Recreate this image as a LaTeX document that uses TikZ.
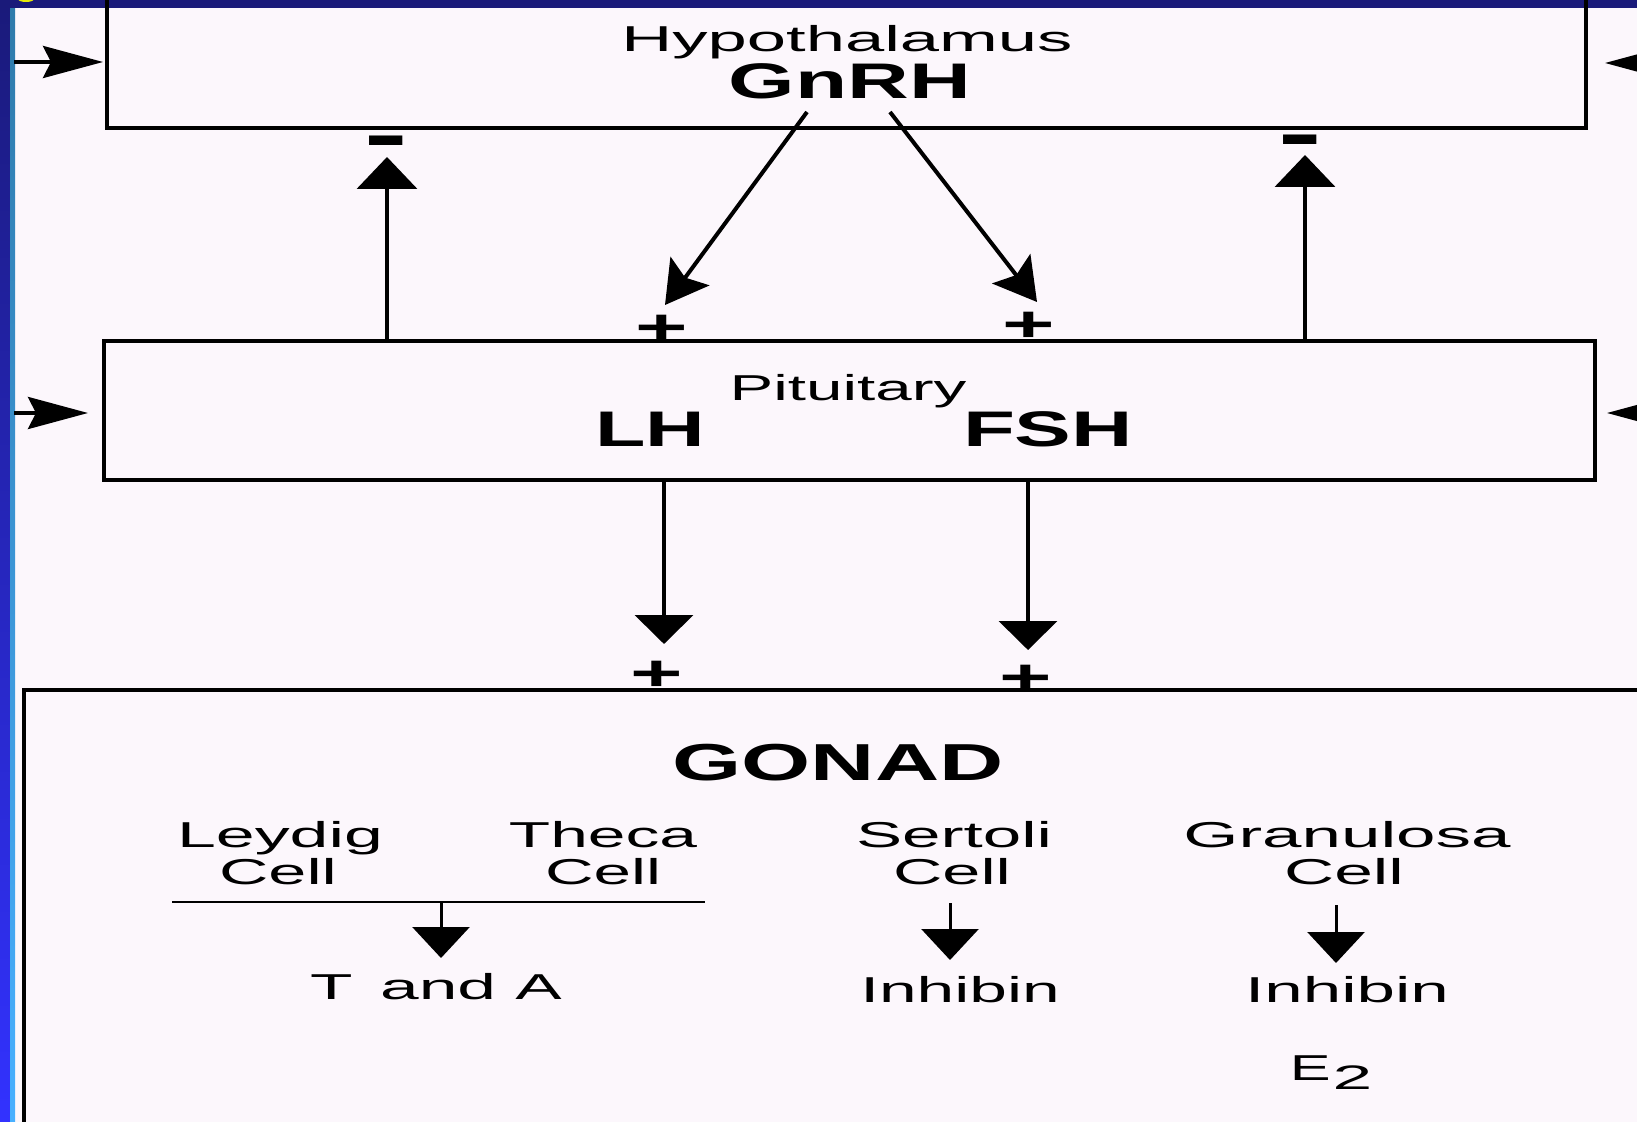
\documentclass[tikz,border=0pt]{standalone}
\usepackage{fontspec}
\setmainfont{Liberation Sans}
\usetikzlibrary{arrows.meta}
\definecolor{bg}{RGB}{252,247,252}
\definecolor{navy}{RGB}{26,26,122}
\definecolor{bblue}{RGB}{50,50,255}
\definecolor{stripetop}{RGB}{46,122,170}
\definecolor{stripebot}{RGB}{72,176,255}
\newcommand{\sx}[2]{\scalebox{#1}[1]{#2}}
\begin{document}
\begin{tikzpicture}[x=0.5pt,y=-0.5pt,
  box/.style={draw=black,line width=2pt,inner sep=0pt,outer sep=0pt},
  rl/.style={inner sep=0pt,anchor=base,font=\fontsize{18pt}{20pt}\selectfont},
  bl/.style={inner sep=0pt,anchor=base,font=\fontsize{25pt}{27pt}\selectfont\bfseries},
  sg/.style={inner sep=0pt,font=\fontsize{25pt}{27pt}\selectfont\bfseries},
  mg/.style={inner sep=0pt,font=\fontsize{48pt}{50pt}\selectfont\bfseries},
  uparr/.style={line width=2pt,-{Triangle[length=16pt,width=30pt]}},
  dnarr/.style={line width=2pt,-{Triangle[length=14.5pt,width=29pt]}},
  diarr/.style={line width=2pt,-{Stealth[length=21pt,width=24pt,inset=4pt]}},
  sarr/.style={line width=2pt,-{Stealth[length=30pt,width=16pt,inset=4pt]}},
  garr/.style={line width=1.5pt,-{Triangle[length=15.5pt,width=28.5pt]}},
]
\useasboundingbox (0,0) rectangle (1637,1122);
\begin{scope}
\clip (0,0) rectangle (1637,1122);
\fill[bg] (0,0) rectangle (1637,1122);
% bands
\shade[top color=navy,bottom color=bblue] (0,0) rectangle (10,1122);
\shade[top color=stripetop,bottom color=stripebot] (10,0) rectangle (15,1122);
\fill[navy] (0,0) rectangle (1637,8);
\fill[yellow!90!green] (26,-1) ellipse (8 and 3);

% boxes
\node[box,minimum width=739.5pt,minimum height=79pt] (hypo) at (846.5,49) {};
\node[box,minimum width=745.5pt,minimum height=69.5pt] (pit) at (849.5,410.5) {};
\node[box,minimum width=838pt,minimum height=255pt] (gonad) at (862,945) {};

% texts
\node[rl] (hypT) at (847,52) {\sx{1.96}{Hypothalamus}};
\node[bl] (gnrh) at (850,99) {\sx{1.71}{GnRH}};
\node[rl] (pitT) at (848,401) {\sx{1.82}{Pituitary}};
\node[bl] (lh) at (650,447) {\sx{1.65}{LH}};
\node[bl] (fsh) at (1048,447) {\sx{1.7}{FSH}};
\node[inner sep=0pt,anchor=base,font=\fontsize{26pt}{28pt}\selectfont\bfseries] (gon) at (838,780) {\sx{1.71}{GONAD}};
\node[rl] (ley) at (280,847) {\sx{1.94}{Leydig}};
\node[rl] (leyc) at (278,884) {\sx{1.9}{Cell}};
\node[rl] (the) at (603,847) {\sx{1.88}{Theca}};
\node[rl] (thec) at (603,884) {\sx{1.87}{Cell}};
\node[rl] (ser) at (954,847) {\sx{1.92}{Sertoli}};
\node[rl] (serc) at (952,884) {\sx{1.9}{Cell}};
\node[rl] (gra) at (1347,847) {\sx{1.97}{Granulosa}};
\node[rl] (grac) at (1344,884) {\sx{1.93}{Cell}};
\node[rl] (ta) at (436,999) {\sx{1.93}{T\hskip0.12em\ and A}};
\node[rl] (inh1) at (960,1002) {\sx{1.88}{Inhibin}};
\node[rl] (inh2) at (1347,1002) {\sx{1.92}{Inhibin}};
\node[rl] (e2) at (1331,1080) {\sx{1.7}{E}\hskip1pt\raisebox{-4.5pt}{\fontsize{17pt}{18pt}\selectfont\sx{2.1}{2}}};

% signs
\node[mg] (mL) at (386,151) {\sx{0.7}{–}};
\node[mg] (mR) at (1300,150) {\sx{0.7}{–}};
\node[sg] (pL) at (662,330) {\sx{1.8}{+}};
\node[sg] (pR) at (1029,327) {\sx{1.8}{+}};
\node[sg] (pL2) at (657,676) {\sx{1.8}{+}};
\node[sg] (pR2) at (1026,680) {\sx{1.8}{+}};

% coordinates
\coordinate (upLt) at (387,157);
\coordinate (upRt) at (1305,155);
\coordinate (dgLs) at (807,112);
\coordinate (dgLt) at (665,305);
\coordinate (dgRs) at (890,112);
\coordinate (dgRt) at (1037,302);
\coordinate (dnLt) at (664,644);
\coordinate (dnRt) at (1028,650);
\coordinate (sHLs) at (14,62);
\coordinate (sHLt) at (103,62);
\coordinate (sHRs) at (1700,63);
\coordinate (sHRt) at (1605,63);
\coordinate (sPLs) at (14,413);
\coordinate (sPLt) at (88,413);
\coordinate (sPRs) at (1700,413);
\coordinate (sPRt) at (1607,413);
\coordinate (tl1) at (172,902);
\coordinate (tl2) at (705,902);
\coordinate (tlm) at (441,902);
\coordinate (taT) at (441,958);
\coordinate (serS) at (950,903);
\coordinate (serT) at (950,960);
\coordinate (graS) at (1336,905);
\coordinate (graT) at (1336,963);

% connectors
\draw[uparr] (pit.north -| upLt) -- (upLt);
\draw[uparr] (pit.north -| upRt) -- (upRt);
\draw[diarr] (dgLs) -- (dgLt);
\draw[diarr] (dgRs) -- (dgRt);
\draw[dnarr] (pit.south -| dnLt) -- (dnLt);
\draw[dnarr] (pit.south -| dnRt) -- (dnRt);
\draw[sarr] (sHLs) -- (sHLt);
\draw[sarr] (sHRs) -- (sHRt);
\draw[sarr] (sPLs) -- (sPLt);
\draw[sarr] (sPRs) -- (sPRt);
\draw[line width=1pt] (tl1) -- (tl2);
\draw[garr] (tlm) -- (taT);
\draw[garr] (serS) -- (serT);
\draw[garr] (graS) -- (graT);
\end{scope}
\end{tikzpicture}
\end{document}
